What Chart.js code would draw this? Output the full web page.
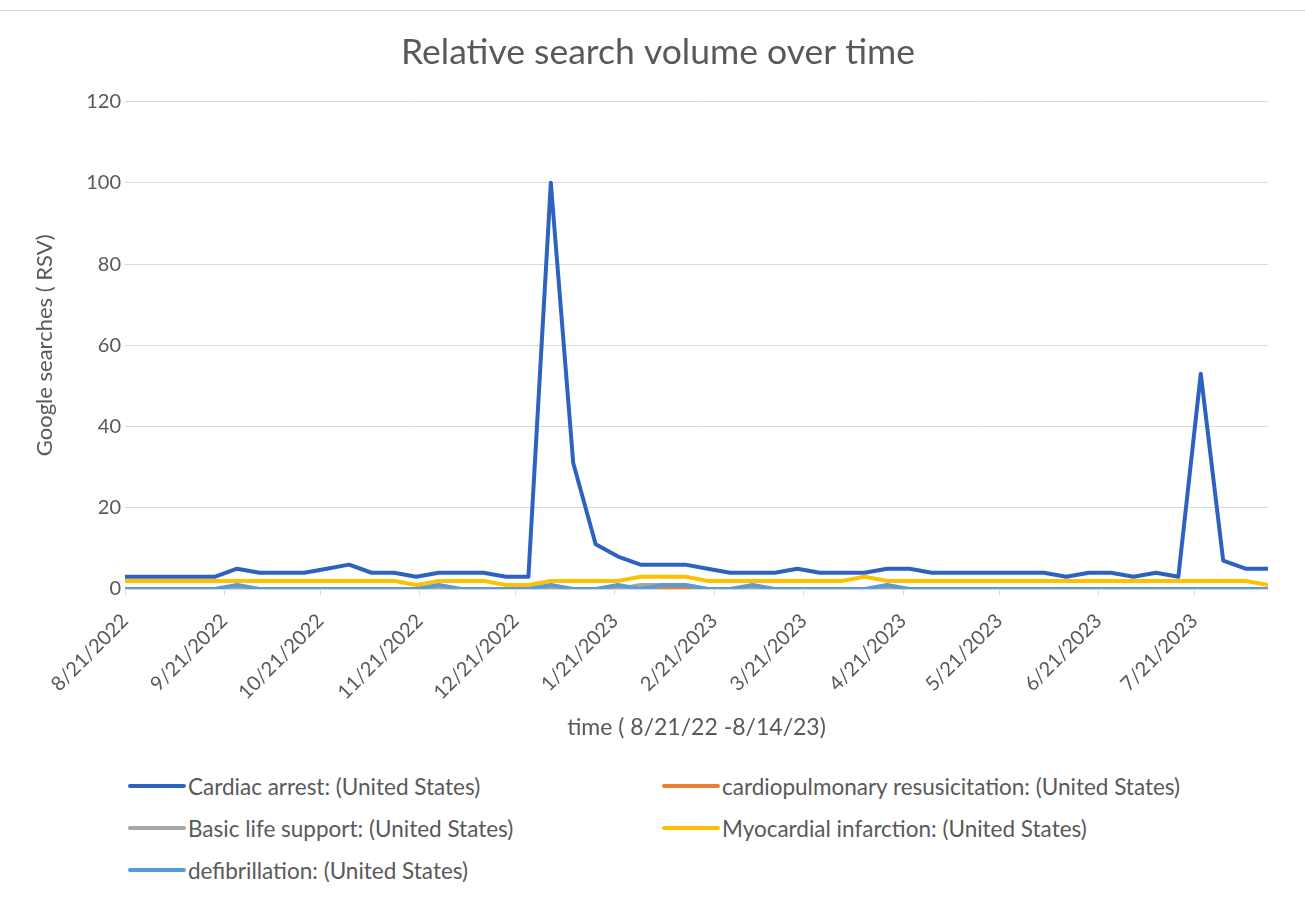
<!DOCTYPE html>
<html>
<head>
<meta charset="utf-8">
<title>Relative search volume over time</title>
<script src="https://cdn.jsdelivr.net/npm/chart.js@4.4.0/dist/chart.umd.min.js"></script>
<style>
    html, body { margin: 0; padding: 0; background: #fff; }
    body { width: 1305px; height: 901px; position: relative; overflow: hidden; font-family: Lato, sans-serif; color: #595959; }
    #frame { position: absolute; left: 0; top: 10px; width: 1305px; height: 880px; border-top: 1px solid #d9d9d9; }
    #wrap { position: absolute; left: 0; top: 0; width: 1305px; height: 760px; }
    #legend { position: absolute; left: 128px; top: 765px; display: grid; grid-template-columns: 534px auto; }
    #legend .item { display: flex; align-items: center; height: 42px; font-size: 22.5px; white-space: nowrap; }
    #legend .swatch { display: inline-block; width: 58px; height: 4px; border-radius: 2px; margin-right: 2px; }
</style>
</head>
<body>
<div id="frame"></div>
<div id="wrap"><canvas id="chart"></canvas></div>
<div id="legend"></div>
<script>
    'use strict';

    // weekly points (week start), Google Trends export
    var weekStarts = [
        '8/21/2022', '8/28/2022', '9/4/2022', '9/11/2022', '9/18/2022', '9/25/2022',
        '10/2/2022', '10/9/2022', '10/16/2022', '10/23/2022', '10/30/2022',
        '11/6/2022', '11/13/2022', '11/20/2022', '11/27/2022',
        '12/4/2022', '12/11/2022', '12/18/2022', '12/25/2022',
        '1/1/2023', '1/8/2023', '1/15/2023', '1/22/2023', '1/29/2023',
        '2/5/2023', '2/12/2023', '2/19/2023', '2/26/2023',
        '3/5/2023', '3/12/2023', '3/19/2023', '3/26/2023',
        '4/2/2023', '4/9/2023', '4/16/2023', '4/23/2023', '4/30/2023',
        '5/7/2023', '5/14/2023', '5/21/2023', '5/28/2023',
        '6/4/2023', '6/11/2023', '6/18/2023', '6/25/2023',
        '7/2/2023', '7/9/2023', '7/16/2023', '7/23/2023', '7/30/2023',
        '8/6/2023', '8/13/2023'
    ];

    var xTickLabels = [
        '8/21/2022', '9/21/2022', '10/21/2022', '11/21/2022', '12/21/2022', '1/21/2023',
        '2/21/2023', '3/21/2023', '4/21/2023', '5/21/2023', '6/21/2023', '7/21/2023'
    ];

    var cardiacArrest = [
        3, 3, 3, 3, 3, 5, 4, 4, 4, 5, 6, 4, 4, 3, 4, 4, 4, 3, 3, 100,
        31, 11, 8, 6, 6, 6, 5, 4, 4, 4, 5, 4, 4, 4, 5, 5, 4, 4, 4, 4,
        4, 4, 3, 4, 4, 3, 4, 3, 53, 7, 5, 5
    ];
    var cprSearches = [
        0, 0, 0, 0, 0, 0, 0, 0, 0, 0, 0, 0, 0, 0, 0, 0, 0, 0, 0, 0,
        0, 0, 0, 0, 0, 0, 0, 0, 0, 0, 0, 0, 0, 0, 0, 0, 0, 0, 0, 0,
        0, 0, 0, 0, 0, 0, 0, 0, 0, 0, 0, 0
    ];
    var basicLifeSupport = [
        0, 0, 0, 0, 0, 0, 0, 0, 0, 0, 0, 0, 0, 0, 0, 0, 0, 0, 0, 0,
        0, 0, 0, 1, 1, 1, 0, 0, 0, 0, 0, 0, 0, 0, 0, 0, 0, 0, 0, 0,
        0, 0, 0, 0, 0, 0, 0, 0, 0, 0, 0, 0
    ];
    var myocardialInfarction = [
        2, 2, 2, 2, 2, 2, 2, 2, 2, 2, 2, 2, 2, 1, 2, 2, 2, 1, 1, 2,
        2, 2, 2, 3, 3, 3, 2, 2, 2, 2, 2, 2, 2, 3, 2, 2, 2, 2, 2, 2,
        2, 2, 2, 2, 2, 2, 2, 2, 2, 2, 2, 1
    ];
    var defibrillation = [
        0, 0, 0, 0, 0, 1, 0, 0, 0, 0, 0, 0, 0, 0, 1, 0, 0, 0, 0, 1,
        0, 0, 1, 0, 1, 1, 0, 0, 1, 0, 0, 0, 0, 0, 1, 0, 0, 0, 0, 0,
        0, 0, 0, 0, 0, 0, 0, 0, 0, 0, 0, 0
    ];

    var seriesNames = [
        'Cardiac arrest: (United States)',
        'cardiopulmonary resusicitation: (United States)',
        'Basic life support: (United States)',
        'Myocardial infarction: (United States)',
        'defibrillation: (United States)'
    ];
    var seriesValues = [cardiacArrest, cprSearches, basicLifeSupport, myocardialInfarction, defibrillation];
    var seriesColors = ['#2e62c0', '#ed7d31', '#a5a5a5', '#ffc000', '#5b9bd5'];

    var textColor = '#595959';
    var fontFamily = 'Lato, sans-serif';

    // days since the first week, so the x axis works like an Excel date axis
    function dayOffset(label) {
        var p = label.split('/');
        var f = weekStarts[0].split('/');
        var t = Date.UTC(+p[2], +p[0] - 1, +p[1]);
        var t0 = Date.UTC(+f[2], +f[0] - 1, +f[1]);

        return Math.round((t - t0) / 86400000);
    }

    var datasets = seriesValues.map(function (values, k) {
        return {
            label: seriesNames[k],
            data: values.map(function (v, i) {
                return {x: dayOffset(weekStarts[i]), y: v};
            }),
            borderColor: seriesColors[k],
            backgroundColor: seriesColors[k],
            borderWidth: 4,
            borderCapStyle: 'round',
            borderJoinStyle: 'round',
            pointRadius: 0,
            tension: 0,
            fill: false,
            // excel draws the last series on top
            order: seriesValues.length - 1 - k
        };
    });

    var chart = new Chart(document.getElementById('chart'), {
        type: 'line',
        data: {datasets: datasets},
        options: {
            responsive: true,
            maintainAspectRatio: false,
            animation: false,
            layout: {padding: {left: 11, right: 0, top: 0, bottom: 0}},
            plugins: {
                legend: {display: false},
                tooltip: {enabled: false},
                title: {
                    display: true,
                    text: 'Relative search volume over time',
                    color: textColor,
                    font: {family: fontFamily, size: 35.5, weight: 'normal'},
                    padding: {top: 31, bottom: 28}
                }
            },
            scales: {
                x: {
                    type: 'linear',
                    min: 0,
                    max: dayOffset(weekStarts[weekStarts.length - 1]),
                    afterBuildTicks: function (scale) {
                        scale.ticks = xTickLabels.map(function (l) {
                            return {value: dayOffset(l)};
                        });
                    },
                    afterFit: function (scale) {
                        scale.height = 171;
                    },
                    grid: {
                        drawOnChartArea: false,
                        drawTicks: true,
                        tickLength: 6,
                        color: '#d9d9d9'
                    },
                    border: {color: '#d9d9d9'},
                    ticks: {
                        autoSkip: false,
                        maxRotation: 45,
                        minRotation: 45,
                        padding: 14,
                        color: textColor,
                        font: {family: fontFamily, size: 20},
                        callback: function (value, index) {
                            return xTickLabels[index];
                        }
                    },
                    title: {
                        display: true,
                        text: 'time ( 8/21/22 -8/14/23)',
                        color: textColor,
                        font: {family: fontFamily, size: 23},
                        padding: {top: 0, bottom: 19}
                    }
                },
                y: {
                    min: 0,
                    max: 120,
                    afterFit: function (scale) {
                        scale.width = 114;
                    },
                    grid: {
                        color: '#d9d9d9',
                        drawTicks: false
                    },
                    border: {display: false},
                    ticks: {
                        stepSize: 20,
                        padding: 4,
                        color: textColor,
                        font: {family: fontFamily, size: 20}
                    },
                    title: {
                        display: true,
                        text: 'Google searches ( RSV)',
                        color: textColor,
                        font: {family: fontFamily, size: 22},
                        padding: {top: 21, bottom: 0}
                    }
                },
                // empty right margin so the title centres on the whole frame like excel
                yRight: {
                    position: 'right',
                    display: true,
                    afterFit: function (scale) {
                        scale.width = 37;
                    },
                    grid: {display: false},
                    border: {display: false},
                    ticks: {display: false}
                }
            }
        }
    });

    // legend in two columns like the excel one, built from the chart datasets
    var legend = document.getElementById('legend');
    chart.data.datasets.forEach(function (ds) {
        var item = document.createElement('div');
        item.className = 'item';
        var swatch = document.createElement('span');
        swatch.className = 'swatch';
        swatch.style.background = ds.borderColor;
        var text = document.createElement('span');
        text.textContent = ds.label;
        item.appendChild(swatch);
        item.appendChild(text);
        legend.appendChild(item);
    });
</script>
</body>
</html>
